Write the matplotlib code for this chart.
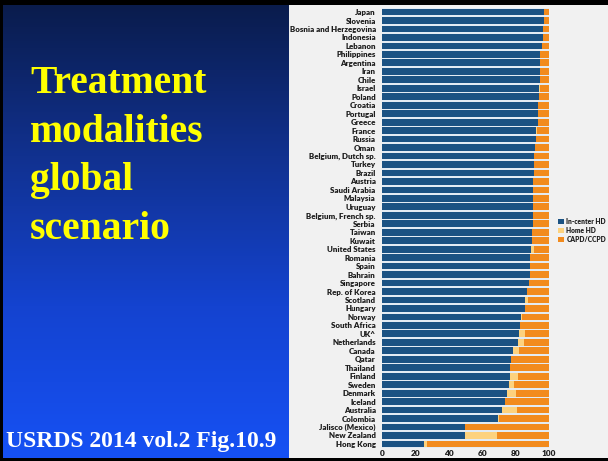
import numpy as np
import matplotlib
matplotlib.use("Agg")
import matplotlib.pyplot as plt
from matplotlib.colors import LinearSegmentedColormap
from matplotlib.patches import Patch

countries = [
    "Japan", "Slovenia", "Bosnia and Herzegovina", "Indonesia", "Lebanon",
    "Philippines", "Argentina", "Iran", "Chile", "Israel", "Poland", "Croatia",
    "Portugal", "Greece", "France", "Russia", "Oman", "Belgium, Dutch sp.",
    "Turkey", "Brazil", "Austria", "Saudi Arabia", "Malaysia", "Uruguay",
    "Belgium, French sp.", "Serbia", "Taiwan", "Kuwait", "United States",
    "Romania", "Spain", "Bahrain", "Singapore", "Rep. of Korea", "Scotland",
    "Hungary", "Norway", "South Africa", "UK^", "Netherlands", "Canada",
    "Qatar", "Thailand", "Finland", "Sweden", "Denmark", "Iceland",
    "Australia", "Colombia", "Jalisco (Mexico)", "New Zealand", "Hong Kong",
]
in_center_hd = [
    96.9, 96.8, 96.6, 96.3, 96.0,
    94.9, 94.8, 94.5, 94.4, 94.2, 93.9, 93.5,
    93.4, 93.4, 92.2, 92.2, 91.8, 91.3,
    90.9, 90.8, 90.7, 90.6, 90.6, 90.4,
    90.2, 90.2, 89.8, 89.8, 89.3,
    88.9, 88.8, 88.4, 88.0, 86.6, 85.8,
    85.8, 83.3, 82.7, 81.9, 81.7, 78.4,
    77.5, 76.9, 76.5, 75.9, 74.6, 73.6,
    71.6, 69.6, 49.8, 49.8, 25.0,
]
home_hd = [
    0.0, 0.0, 0.0, 0.0, 0.0,
    0.0, 0.0, 0.0, 0.0, 0.3, 0.0, 0.0,
    0.0, 0.0, 0.4, 0.0, 0.0, 0.0,
    0.0, 0.0, 0.0, 0.0, 0.0, 0.0,
    0.4, 0.0, 0.0, 0.0, 1.6,
    0.0, 0.0, 0.0, 0.0, 0.2, 1.8,
    0.0, 0.8, 0.2, 3.6, 3.1, 3.9,
    0.0, 0.0, 5.2, 3.4, 5.5, 0.0,
    9.1, 0.5, 0.0, 19.1, 2.2,
]
capd_ccpd = [100 - a - b for a, b in zip(in_center_hd, home_hd)]

series_names = ["In-center HD", "Home HD", "CAPD/CCPD"]
series_colors = ["#1b5283", "#fdd27e", "#f28b1e"]
x_ticks = [0, 20, 40, 60, 80, 100]

title_lines = ["Treatment", "modalities", "global", "scenario"]
source_text = "USRDS 2014 vol.2 Fig.10.9"

W, H = 608, 461
fig = plt.figure(figsize=(W / 100, H / 100), dpi=100, facecolor="black")

# left slide panel with vertical blue gradient (dark at top)
bg = fig.add_axes([3 / W, 3 / H, (289 - 3) / W, (456 - 3) / H])
grad = LinearSegmentedColormap.from_list(
    "slide", ["#0a1c4c", "#11318f", "#1443d0", "#1651f4"])
bg.imshow(np.linspace(0, 1, 256).reshape(-1, 1), aspect="auto", cmap=grad,
          extent=[0, 1, 0, 1])
bg.set_axis_off()

# right panel background
rp = fig.add_axes([289 / W, 3 / H, (W - 289) / W, (456 - 3) / H])
rp.set_facecolor("#f1f1f1")
rp.set_xticks([])
rp.set_yticks([])
for s in rp.spines.values():
    s.set_visible(False)

# slide text
y0 = 1 - 93 / H
for i, line in enumerate(title_lines):
    fig.text(30 / W, y0 - i * 48.5 / H, line, color="#ffff00",
             fontfamily="Liberation Serif", fontweight="bold", fontsize=28.5,
             va="baseline", ha="left")
fig.text(6 / W, 1 - 447 / H, source_text, color="white",
         fontfamily="Liberation Serif", fontweight="bold", fontsize=17,
         va="baseline", ha="left")

# stacked bar chart
ax = fig.add_axes([382 / W, (H - 448.2) / H, 167 / W, 440.4 / H])
ax.set_facecolor("#e3ebf3")
y = np.arange(len(countries))
left = np.zeros(len(countries))
handles = []
for vals, name, col in zip([in_center_hd, home_hd, capd_ccpd],
                           series_names, series_colors):
    ax.barh(y, vals, left=left, height=0.8, color=col, edgecolor="none",
            label=name)
    left = left + np.array(vals)
    handles.append(Patch(facecolor=col, edgecolor="none", label=name))

ax.set_xlim(0, 100)
ax.set_ylim(len(countries) - 0.5, -0.5)
ax.set_yticks(y)
ax.set_yticklabels(countries, fontfamily="Lato", fontweight="heavy",
                   fontsize=5.7, color="#1e1e1e")
ax.set_xticks(x_ticks)
ax.set_xticklabels([str(t) for t in x_ticks], fontfamily="Lato",
                   fontweight="heavy", fontsize=6.0, color="#1e1e1e")
ax.tick_params(length=0, pad=1.2)
ax.tick_params(axis="y", pad=4.5)
for s in ax.spines.values():
    s.set_visible(False)

fig.legend(handles=handles, loc="upper left",
           bbox_to_anchor=(553 / W, 1 - 213 / H), frameon=False,
           prop={"family": "Lato", "weight": "heavy", "size": 4.8},
           handlelength=0.9, handleheight=0.9, handletextpad=0.4,
           labelspacing=0.3, borderpad=0.2, labelcolor="#1e1e1e")

fig.savefig("out.png", dpi=100, facecolor="black")
